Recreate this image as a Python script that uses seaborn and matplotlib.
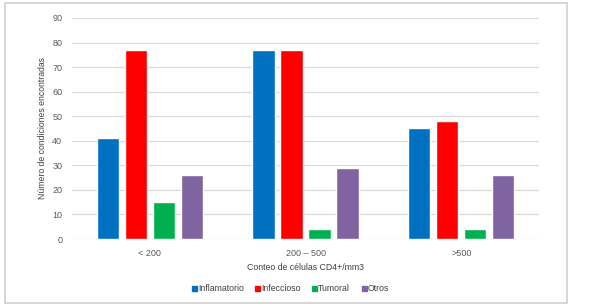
import pandas as pd
import matplotlib.pyplot as plt
import seaborn as sns
from matplotlib.patches import Rectangle

# values
grupos = ["< 200", "200 – 500", ">500"]
condiciones = ["Inflamatorio", "Infeccioso", "Tumoral", "Otros"]
inflamatorio = [41, 77, 45]
infeccioso = [77, 77, 48]
tumoral = [15, 4, 4]
otros = [26, 29, 26]
colores = ["#0070C0", "#FF0000", "#00B050", "#8064A2"]

df = pd.DataFrame({"grupo": grupos * 4,
                   "condicion": [c for c in condiciones for _ in grupos],
                   "valor": inflamatorio + infeccioso + tumoral + otros})

sns.set_style("white")
plt.rcParams["font.family"] = ["Liberation Sans", "DejaVu Sans"]

fig = plt.figure(figsize=(5.89, 3.08), dpi=100)
ax = fig.add_axes([0.1222, 0.224, 0.793, 0.7176])

sns.barplot(data=df, x="grupo", y="valor", hue="condicion", order=grupos,
            hue_order=condiciones, palette=colores, width=0.72, gap=0.2,
            saturation=1, ax=ax, legend=False)

ax.set_ylim(0, 90)
ax.set_yticks(range(0, 91, 10))
ax.set_xlim(-0.5, 2.5)
ax.grid(axis="y", color="#D9D9D9", linewidth=0.9)
ax.set_axisbelow(True)
for s in ax.spines.values():
    s.set_visible(False)
ax.tick_params(axis="both", length=0, labelsize=6.5, colors="#595959", pad=7)
ax.set_xlabel("Conteo de células CD4+/mm3", fontsize=6.3, color="#404040", labelpad=4)
ax.set_ylabel("Número de condiciones encontradas", fontsize=6.2, color="#404040", labelpad=4)

handles = [Rectangle((0, 0), 1, 1, color=c) for c in colores]
fig.legend(handles, condiciones, loc="center", bbox_to_anchor=(0.493, 0.062), ncol=4,
           frameon=False, fontsize=6.3, handlelength=0.6, handleheight=0.6,
           handletextpad=0.1, columnspacing=1.3, labelcolor="#404040")

fig.patches.append(Rectangle((5 / 589, 5 / 308), 562 / 589, 300 / 308,
                             transform=fig.transFigure, fill=False,
                             edgecolor="#D0D0D0", linewidth=1.2))

fig.savefig("out.png", dpi=100)
